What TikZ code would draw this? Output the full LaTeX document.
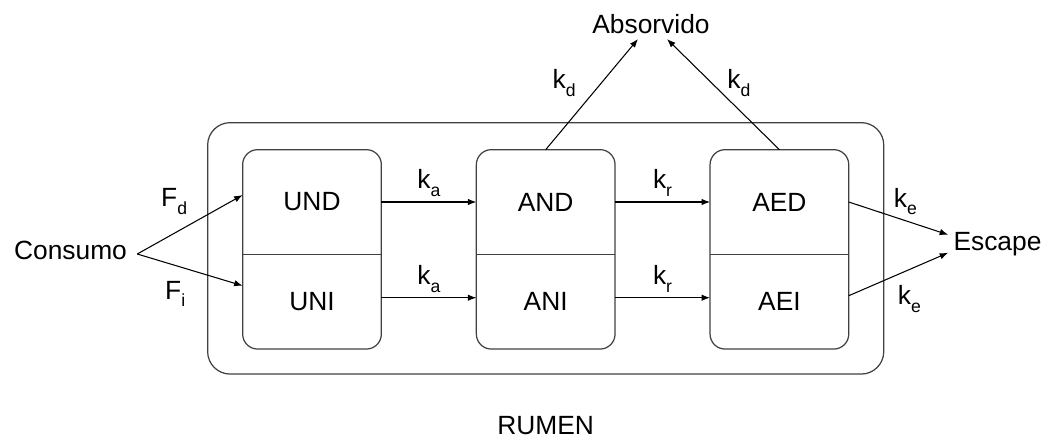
\documentclass[tikz,border=0pt]{standalone}
\usepackage{fontspec}
\setmainfont{Liberation Sans}
\usepackage{tikz}
\usetikzlibrary{arrows.meta,positioning,calc}
\newcommand\indice[1]{\raisebox{-4.5pt}{\fontsize{10}{12}\selectfont #1}}

\begin{document}
\begin{tikzpicture}[
parte/.style={minimum width=27.6mm,inner sep=0pt,font=\fontsize{15}{18}\selectfont},
caja/.style={draw=black!75,line width=0.7pt,rounded corners=3mm},
rumen/.style={draw=black!75,line width=0.7pt,rounded corners=4.5mm},
etiq/.style={inner sep=1mm,font=\fontsize{15}{18}\selectfont},
arr/.style={-{Latex[length=1.7mm,width=1.3mm]},line width=0.6pt},
lbl/.style={inner sep=1mm,font=\fontsize{15}{18}\selectfont}
]
\useasboundingbox (0,0) rectangle (209.8mm,-88.2mm);

\node[parte,minimum height=20.8mm] (und) at (62.4mm,-40.4mm) {UND};
\node[parte,minimum height=18.8mm,below=0mm of und] (uni) {UNI};
\node[parte,minimum height=20.8mm,right=19mm of und] (and) {AND};
\node[parte,minimum height=18.8mm,below=0mm of and] (ani) {ANI};
\node[parte,minimum height=20.8mm,right=19mm of and] (aed) {AED};
\node[parte,minimum height=18.8mm,below=0mm of aed] (aei) {AEI};

\foreach \s/\i in {und/uni,and/ani,aed/aei} {
  \draw[caja] (\s.north west) rectangle (\i.south east);
  \draw[caja] (\s.south west) -- (\s.south east);
}
\draw[rumen] ($(und.north west)+(-7mm,5.4mm)$) rectangle ($(aei.south east)+(7mm,-5mm)$);

\node[etiq,inner sep=2mm] (consumo) at (14.1mm,-50mm) {Consumo};
\node[etiq] (escape) at (199.5mm,-48.75mm) {Escape};
\node[etiq] (absorvido) at (130.2mm,-4.8mm) {Absorvido};
\node[etiq,below=12.3mm of ani] (nombre) {RUMEN};

\draw[arr] ([yshift=-0.8mm]consumo.east) -- ([yshift=1.4mm]und.west) node[lbl,pos=0.35,above=2.6mm] {F\indice{d}};
\draw[arr] ([yshift=-0.8mm]consumo.east) -- ([yshift=3.2mm]uni.west) node[lbl,pos=0.36,below=2mm] {F\indice{i}};
\foreach \a/\b/\k/\d in {und/and/a/0,uni/ani/a/0.8,and/aed/r/0,ani/aei/r/0.8} \draw[arr] ([yshift=\d mm]\a.east) -- ([yshift=\d mm]\b.west) node[lbl,midway,above] {k\indice{\k}};

\draw[arr] (and.north) -- ([xshift=-2.6mm]absorvido.south) node[lbl,pos=0.6,left=4mm] {k\indice{d}};
\draw[arr] (aed.north) -- ([xshift=3.2mm]absorvido.south) node[lbl,pos=0.6,right=2mm] {k\indice{d}};

\draw[arr] (aed.east) -- ([yshift=1.8mm]escape.west) node[lbl,pos=0.57,above] {k\indice{e}};
\draw[arr] ([yshift=1.2mm]aei.east) -- ([yshift=-1.8mm]escape.west) node[lbl,pos=0.61,below=2mm] {k\indice{e}};
\end{tikzpicture}
\end{document}
